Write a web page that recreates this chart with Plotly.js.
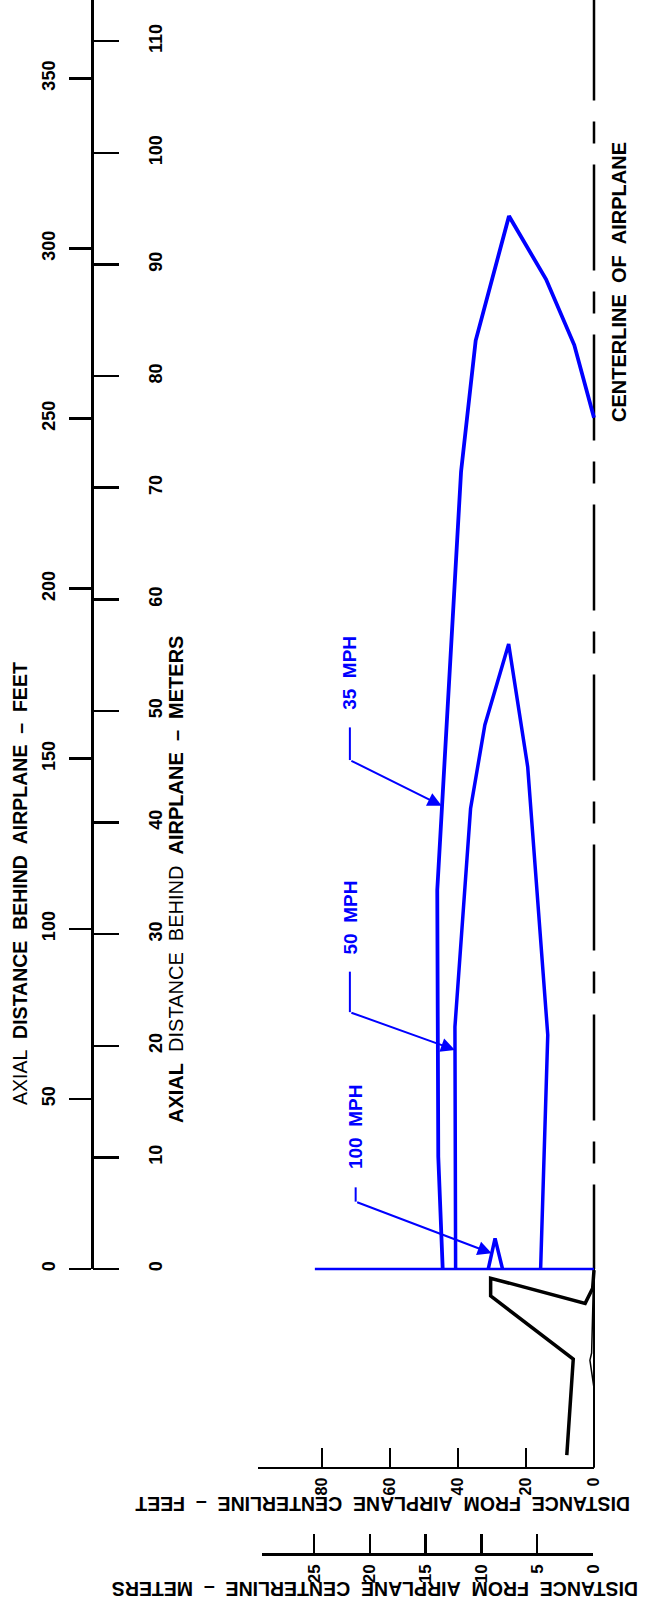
<!DOCTYPE html>
<html><head><meta charset="utf-8">
<script src="https://cdn.plot.ly/plotly-3.0.1.min.js"></script>
<style>html,body{margin:0;padding:0;background:#fff;}#chart{width:648px;height:1605px;}</style>
</head><body><div id="chart"></div>
<script>
// ---------------- DATA (feet) ----------------
// x = distance from airplane centerline (ft), y = axial distance behind airplane (ft)
const CURVE_35_X = [44.5, 45.8, 46.1, 39.1, 34.8, 25.0, 14.1, 5.8, 0];
const CURVE_35_Y = [0, 33, 111.4, 234.4, 272.9, 309.5, 290.9, 271.6, 250.2];
const CURVE_50_X = [40.7, 40.9, 36.3, 32.1, 25.1, 19.5, 13.6, 15.7];
const CURVE_50_Y = [0, 71.2, 135.4, 159.9, 183.7, 147.6, 68.8, 0];
const CURVE_100_X = [31.1, 29.1, 26.9];
const CURVE_100_Y = [0, 9.0, 0];
const BASE_X = [82.1, 0];
const BASE_Y = [0, 0];
const PLANE_X = [0, 0.4, 2.6, 30.4, 30.4, 6.1, 8.0];
const PLANE_Y = [-0.3, -5.7, -10.1, -2.7, -7.9, -26.5, -54.7];
const FUSE_X = [0.2, 0.7, 1.2, 0.4, 0];
const FUSE_Y = [-5.2, -24.7, -26.8, -32.6, -35];
const CL_X = [0, 0];
const CL_Y = [374.6, 0];
const CL_LOW_X = [0, 0];
const CL_LOW_Y = [0, -58.4];

const LABEL_TEXT = ['35\u00a0\u00a0MPH', '50\u00a0\u00a0MPH', '100\u00a0\u00a0MPH'];
const LABEL_X = [71.8, 71.6, 70.3];
const LABEL_Y = [175.2, 103.2, 41.7];
const STUB_X = [71.8, 71.8, 70.1];
const STUB_TOP_Y = [159.2, 87.4, 24.0];
const STUB_CORNER_Y = [149.6, 75.5, 19.8];
const TIP_X = [44.8, 40.9, 30.1];
const TIP_Y = [136.2, 64.4, 4.6];

const FT_TICKS_AXIAL = [0, 50, 100, 150, 200, 250, 300, 350];
const M_TICKS_AXIAL = [0, 10, 20, 30, 40, 50, 60, 70, 80, 90, 100, 110];
const FT_TICKS_LAT = [0, 20, 40, 60, 80];
const M_TICKS_LAT = [0, 5, 10, 15, 20, 25];
const FT_PER_M = 3.28084;

// ---------------- LAYOUT GEOMETRY ----------------
const W = 648, H = 1605;
const X0 = 594, KX = 3.4;      // px of 0 ft, px per ft (horizontal)
const Y0 = 1269, KY = 3.402;   // px of 0 ft, px per ft (vertical)
const AXIS_X = 92;
const BOT_FT_Y = 1467.7, BOT_M_Y = 1554;

const blue = '#0000ff', black = '#000000';
const tickFont = {family: 'Liberation Sans, Arial, sans-serif', size: 18, color: black, weight: 'bold'};
const titleFamily = 'Liberation Sans Narrow, Liberation Sans, Arial, sans-serif';

const traces = [];
function line(x, y, color, width, dash) {
  traces.push({type: 'scatter', mode: 'lines', x: x, y: y, xaxis: 'x', yaxis: 'y',
    line: {color: color, width: width, dash: dash || 'solid'}, hoverinfo: 'skip', showlegend: false});
}
line(CL_X, CL_Y, black, 2.5, '106px,21px,22px,21px');
line(CL_LOW_X, CL_LOW_Y, black, 2);
line(BASE_X, BASE_Y, blue, 2.5);
line(CURVE_35_X, CURVE_35_Y, blue, 3.8);
line(CURVE_50_X, CURVE_50_Y, blue, 3.5);
line(CURVE_100_X, CURVE_100_Y, blue, 3.5);
line(PLANE_X, PLANE_Y, black, 3.5);
line(FUSE_X, FUSE_Y, black, 1.5);
for (let i = 0; i < STUB_X.length; i++) {
  line([STUB_X[i], STUB_X[i]], [STUB_TOP_Y[i], STUB_CORNER_Y[i]], blue, 2);
}
// dummy traces so the display axes get subplots
[['x', 'y2'], ['x', 'y3'], ['x2', 'y'], ['x3', 'y']].forEach(p => {
  traces.push({type: 'scatter', mode: 'lines', x: [], y: [], xaxis: p[0], yaxis: p[1], showlegend: false, hoverinfo: 'skip'});
});

const annotations = [];
for (let i = 0; i < LABEL_TEXT.length; i++) {
  annotations.push({xref: 'x', yref: 'y', x: LABEL_X[i], y: LABEL_Y[i], text: LABEL_TEXT[i], showarrow: false,
    textangle: -90, xanchor: 'center', yanchor: 'middle',
    font: {family: 'Liberation Sans, Arial, sans-serif', size: 19, color: blue, weight: 'bold'}});
  annotations.push({xref: 'x', yref: 'y', axref: 'x', ayref: 'y', x: TIP_X[i], y: TIP_Y[i],
    ax: STUB_X[i], ay: STUB_CORNER_Y[i], text: '', showarrow: true, arrowhead: 2, arrowsize: 1.4,
    arrowwidth: 2, arrowcolor: blue, standoff: 0, startstandoff: 0});
}
const nb = s => s.replace(/ /g, '\u00a0');
function title(text, px, py, angle, size) {
  annotations.push({xref: 'paper', yref: 'paper', x: px / W, y: 1 - py / H, text: text, showarrow: false,
    textangle: angle, xanchor: 'center', yanchor: 'middle',
    font: {family: titleFamily, size: size, color: black}});
}
title(nb('AXIAL  <b>DISTANCE  BEHIND  AIRPLANE  –  FEET</b>'), 20, 884, -90, 19.5);
title(nb('<b>AXIAL</b>  DISTANCE  BEHIND  <b>AIRPLANE  –  METERS</b>'), 176, 880, -90, 20);
title(nb('<b>DISTANCE  FROM  AIRPLANE  CENTERLINE  –  FEET</b>'), 383, 1504, 180, 19.5);
title(nb('<b>DISTANCE  FROM  AIRPLANE  CENTERLINE  –  METERS</b>'), 375, 1589, 180, 19.5);
title(nb('<b>CENTERLINE  OF  AIRPLANE</b>'), 619, 282, -90, 20);

const layout = {
  width: W, height: H, autosize: false,
  margin: {l: 0, r: 0, t: 0, b: 0, pad: 0},
  paper_bgcolor: '#ffffff', plot_bgcolor: 'rgba(0,0,0,0)',
  showlegend: false,
  xaxis: {domain: [0, 1], range: [X0 / KX, (X0 - W) / KX], visible: false, anchor: 'y', fixedrange: true},
  yaxis: {domain: [0, 1], range: [(Y0 - H) / KY, Y0 / KY], visible: false, anchor: 'x', fixedrange: true},
  yaxis2: {domain: [1 - Y0 / H, 1], range: [0, Y0 / KY], anchor: 'free', position: AXIS_X / W, side: 'left',
    showline: true, linewidth: 2.5, linecolor: black, ticks: 'outside', ticklen: 22, tickwidth: 2.5, tickcolor: black,
    tickmode: 'array', tickvals: FT_TICKS_AXIAL, ticktext: FT_TICKS_AXIAL.map(String), tickangle: -90,
    tickfont: tickFont, ticklabelstandoff: 7, showgrid: false, zeroline: false, fixedrange: true},
  yaxis3: {domain: [1 - Y0 / H, 1], range: [0, Y0 / KY / FT_PER_M], anchor: 'free', position: AXIS_X / W, side: 'right',
    showline: false, ticks: 'outside', ticklen: 26, tickwidth: 2.5, tickcolor: black,
    tickmode: 'array', tickvals: M_TICKS_AXIAL, ticktext: M_TICKS_AXIAL.map(String), tickangle: -90,
    tickfont: tickFont, ticklabelstandoff: 21, showgrid: false, zeroline: false, fixedrange: true},
  xaxis2: {domain: [258 / W, X0 / W], range: [(X0 - 258) / KX, 0], anchor: 'free', position: 1 - BOT_FT_Y / H, side: 'bottom',
    showline: true, linewidth: 2.5, linecolor: black, ticks: 'inside', ticklen: 19, tickwidth: 2.5, tickcolor: black,
    tickmode: 'array', tickvals: FT_TICKS_LAT, ticktext: FT_TICKS_LAT.map(String), tickangle: -90,
    tickfont: Object.assign({}, tickFont, {size: 16}), ticklabelstandoff: 2, showgrid: false, zeroline: false, fixedrange: true},
  xaxis3: {domain: [261.7 / W, 593 / W], range: [(593 - 261.7) / (KX * FT_PER_M), 0], anchor: 'free', position: 1 - BOT_M_Y / H, side: 'bottom',
    showline: true, linewidth: 2.5, linecolor: black, ticks: 'inside', ticklen: 19, tickwidth: 2.5, tickcolor: black,
    tickmode: 'array', tickvals: M_TICKS_LAT, ticktext: M_TICKS_LAT.map(String), tickangle: -90,
    tickfont: Object.assign({}, tickFont, {size: 17}), ticklabelstandoff: 2, showgrid: false, zeroline: false, fixedrange: true},
  annotations: annotations
};
Plotly.newPlot('chart', traces, layout, {staticPlot: true, displayModeBar: false});
</script></body></html>
